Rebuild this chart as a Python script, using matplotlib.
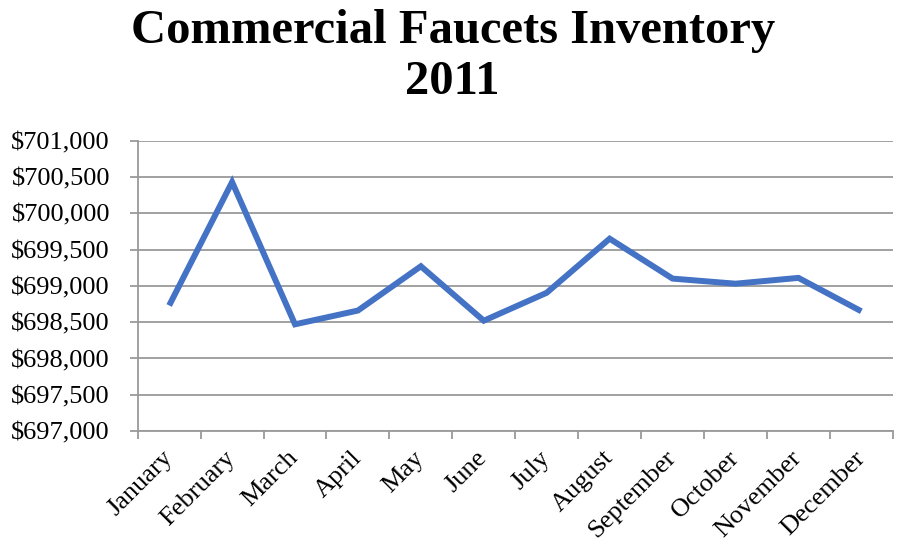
import numpy as np
import matplotlib.pyplot as plt
from matplotlib.ticker import FuncFormatter, FixedLocator

months = ['January', 'February', 'March', 'April', 'May', 'June', 'July',
          'August', 'September', 'October', 'November', 'December']
inventory = [698730, 700430, 698470, 698660, 699270, 698520, 698905,
             699650, 699100, 699030, 699110, 698650]

y_ticks = np.arange(697000, 701001, 500)

plt.rcParams['font.family'] = ['Liberation Serif', 'DejaVu Serif']

fig = plt.figure(figsize=(9, 5.54), dpi=100)
ax = fig.add_axes([0.153, 0.222, 0.839, 0.524])

x = np.arange(len(months))
ax.plot(x, inventory, color='#4472C4', linewidth=4.3, solid_joinstyle='miter',
        solid_capstyle='butt', zorder=3)

ax.set_xlim(-0.5, len(months) - 0.5)
ax.set_ylim(697000, 701000)
ax.set_yticks(y_ticks)
ax.yaxis.set_major_formatter(FuncFormatter(lambda v, p: '${:,.0f}'.format(v)))
ax.grid(axis='y', color='#9a9a9a', linewidth=1.3, zorder=1)

# ticks between categories, labels at the centres
ax.xaxis.set_major_locator(FixedLocator(np.arange(-0.5, len(months), 1.0)))
ax.xaxis.set_major_formatter(FuncFormatter(lambda v, p: ''))
ax.xaxis.set_minor_locator(FixedLocator(x))
ax.set_xticklabels(months, minor=True, rotation=45, ha='right',
                   rotation_mode='anchor', va='center', fontsize=19)
ax.tick_params(axis='x', which='minor', length=0, pad=17)
ax.tick_params(axis='x', which='major', length=6, width=1.3, color='#9a9a9a')
ax.tick_params(axis='y', length=6, width=1.3, color='#9a9a9a',
               labelsize=19, pad=14)

for side in ['top', 'right']:
    ax.spines[side].set_visible(False)
for side in ['left', 'bottom']:
    ax.spines[side].set_color('#9a9a9a')
    ax.spines[side].set_linewidth(1.3)

fig.text(0.503, 0.984, 'Commercial Faucets Inventory\n2011', ha='center',
         va='top', fontsize=35, fontweight='bold', linespacing=1.22)

plt.savefig('out.png', dpi=100)
